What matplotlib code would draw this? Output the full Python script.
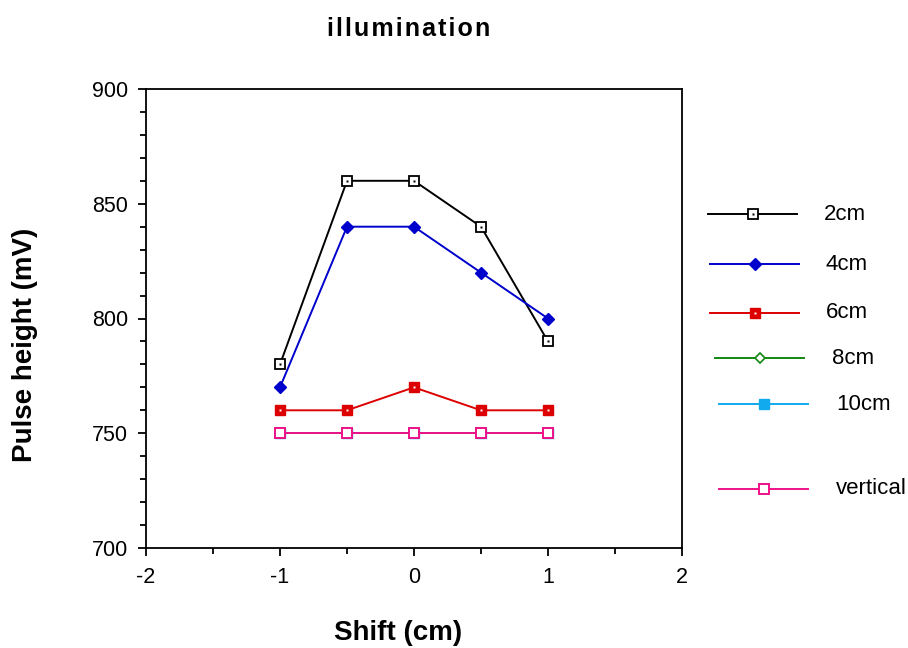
import matplotlib
matplotlib.use("Agg")
import matplotlib.pyplot as plt
from matplotlib.lines import Line2D
from matplotlib.ticker import MultipleLocator

plt.rcParams['font.family'] = ['Liberation Sans', 'DejaVu Sans']
plt.rcParams['axes.unicode_minus'] = False

shift = [-1, -0.5, 0, 0.5, 1]
s2cm = [780, 860, 860, 840, 790]
s4cm = [770, 840, 840, 820, 800]
s6cm = [760, 760, 770, 760, 760]
s8cm = [750, 750, 750, 750, 750]
s10cm = [750, 750, 750, 750, 750]
vertical = [750, 750, 750, 750, 750]
labels = ['2cm', '4cm', '6cm', '8cm', '10cm', 'vertical']

styles = [
    dict(color='black', marker='s', mfc='white', mec='black', ms=6.5, mew=1.3),
    dict(color='#0000CC', marker='D', mfc='#0000CC', mec='#0000CC', ms=6, mew=1),
    dict(color='#DD0000', marker='s', mfc='#DD0000', mec='#DD0000', ms=7, mew=1),
    dict(color='#118811', marker='D', mfc='white', mec='#118811', ms=5, mew=1.2),
    dict(color='#11AAEE', marker='s', mfc='#11AAEE', mec='#11AAEE', ms=7, mew=1),
    dict(color='#EE1188', marker='s', mfc='white', mec='#EE1188', ms=7, mew=1.4),
]
centers = [True, False, True, False, False, False]
series = [s2cm, s4cm, s6cm, s8cm, s10cm, vertical]

fig = plt.figure(figsize=(9.08, 6.48), dpi=100)
ax = fig.add_axes([146/908, 1-548/648, (682-146)/908, (548-89)/648])

order = [3, 4, 5, 2, 1, 0]
for i in order:
    ax.plot(shift, series[i], lw=1.4, zorder=2+i, **styles[i])
    if centers[i]:
        ax.plot(shift, series[i], ls='none', marker='s', ms=1.8, mfc='white' if i == 2 else 'black',
                mec='none', zorder=2.5+i)

ax.set_xlim(-2, 2)
ax.set_ylim(700, 900)
ax.xaxis.set_major_locator(MultipleLocator(1))
ax.xaxis.set_minor_locator(MultipleLocator(0.5))
ax.yaxis.set_major_locator(MultipleLocator(50))
ax.yaxis.set_minor_locator(MultipleLocator(10))
ax.tick_params(which='both', direction='out', top=False, right=False, labelsize=15.5, width=1.3)
ax.tick_params(which='major', length=6)
ax.tick_params(which='minor', length=4)
ax.tick_params(axis='x', pad=8)
ax.tick_params(axis='y', pad=7)
for sp in ax.spines.values():
    sp.set_linewidth(1.3)

fig.text(398/908, 1-633/648, 'Shift (cm)', fontsize=20, fontweight='bold', ha='center', va='center')
fig.text(25/908, 1-345/648, 'Pulse height (mV)', fontsize=20, fontweight='bold', ha='center', va='center',
         rotation=90)
fig.text(409/908, 1-29/648, '\u200a'.join('illumination'), ha='center', va='center',
         fontsize=18, fontweight='bold')

# legend, drawn manually to match irregular spacing
leg_y = [214, 264, 313, 358, 404, 489]
leg_x0 = [708, 710, 710, 715, 719, 719]
leg_tx = [824, 826, 826, 832, 836, 836]
for i in range(6):
    y = 1 - leg_y[i]/648
    x0 = leg_x0[i]/908
    x1 = (leg_x0[i] + 89)/908
    fig.add_artist(Line2D([x0, x1], [y, y], lw=1.4, transform=fig.transFigure, **{k: v for k, v in styles[i].items() if k != 'marker'}))
    fig.add_artist(Line2D([(x0+x1)/2], [y], ls='none', transform=fig.transFigure, **styles[i]))
    if centers[i]:
        fig.add_artist(Line2D([(x0+x1)/2], [y], ls='none', marker='s', ms=1.8,
                              mfc='white' if i == 2 else 'black', mec='none', transform=fig.transFigure))
    fig.text(leg_tx[i]/908, y, labels[i], fontsize=16, va='center', ha='left')

fig.savefig('out.png', dpi=100)
